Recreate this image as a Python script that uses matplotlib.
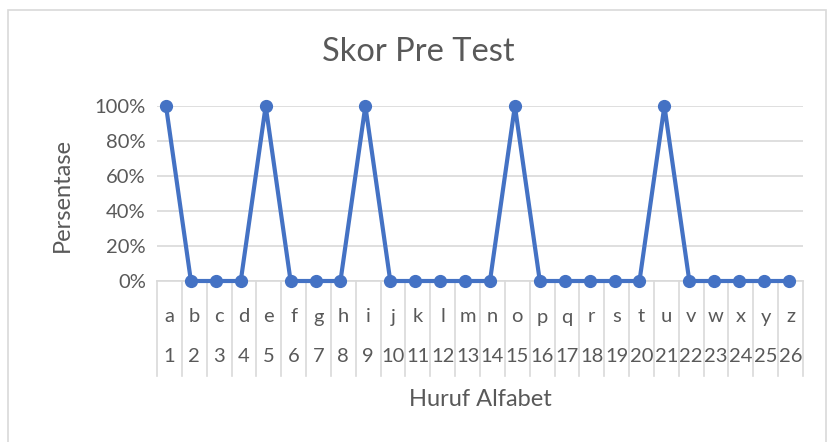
import matplotlib.pyplot as plt
from matplotlib.patches import Rectangle
from matplotlib.ticker import PercentFormatter

plt.rcParams['font.family'] = ['Lato', 'DejaVu Sans']

# data
letters = list("abcdefghijklmnopqrstuvwxyz")
numbers = [str(i) for i in range(1, 27)]
skor = [1, 0, 0, 0, 1, 0, 0, 0, 1, 0, 0, 0, 0, 0, 1, 0, 0, 0, 0, 0, 1, 0, 0, 0, 0, 0]

W, H = 831, 442
blue = '#4472C4'
grey_text = '#595959'
grid_col = '#D9D9D9'

fig = plt.figure(figsize=(W / 100, H / 100), dpi=100)

# chart frame
fig.patches.append(Rectangle((8 / W, -0.05), 818 / W, 1.05 - 10 / H,
                             transform=fig.transFigure, fill=False,
                             edgecolor=grid_col, linewidth=1.2))

left, right, top, bottom = 157, 803, 106, 281
ax = fig.add_axes([left / W, 1 - bottom / H, (right - left) / W, (bottom - top) / H])

x = list(range(len(letters)))
ax.plot(x, skor, color=blue, linewidth=3, marker='o', markersize=8.5, zorder=3, clip_on=False)

# first / last point sit at 166 px and 789 px
step = (789 - 166) / (len(letters) - 1)
ax.set_xlim(-(166 - left) / step, len(letters) - 1 + (right - 789) / step)
ax.set_ylim(0, 1)
ax.set_yticks([0, 0.2, 0.4, 0.6, 0.8, 1.0])
ax.yaxis.set_major_formatter(PercentFormatter(1.0, decimals=0))
ax.tick_params(axis='y', length=0, pad=8, labelsize=14.5, labelcolor=grey_text)
ax.set_xticks([])
for s in ['top', 'right', 'left']:
    ax.spines[s].set_visible(False)
ax.spines['bottom'].set_color(grid_col)
ax.spines['bottom'].set_linewidth(1.2)
ax.grid(axis='y', color=grid_col, linewidth=1.2)
ax.set_axisbelow(True)

# multi-level category axis: one cell per letter
sep_bottom = -(376 - bottom) / (bottom - top)
n = len(letters)
for i in range(n + 1):
    ax.plot([i / n, i / n], [0, sep_bottom], transform=ax.transAxes, color=grid_col,
            linewidth=1.2, clip_on=False)
row1 = -(317 - bottom) / (bottom - top)
row2 = -(357 - bottom) / (bottom - top)
for i, (lt, nm) in enumerate(zip(letters, numbers)):
    cx = (i + 0.5) / n
    ax.text(cx, row1, lt, transform=ax.transAxes, ha='center', va='center', fontsize=14.5, color=grey_text)
    ax.text(cx, row2, nm, transform=ax.transAxes, ha='center', va='center', fontsize=14.5, color=grey_text)

fig.text(480 / W, 1 - 400 / H, 'Huruf Alfabet', ha='center', va='center', fontsize=17, color=grey_text)
fig.text(62 / W, 1 - 195 / H, 'Persentase', ha='center', va='center', rotation=90, fontsize=17, color=grey_text)
fig.text(418 / W, 1 - 52 / H, 'Skor Pre Test', ha='center', va='center', fontsize=23.5, color=grey_text)

fig.savefig('out.png', dpi=100)
